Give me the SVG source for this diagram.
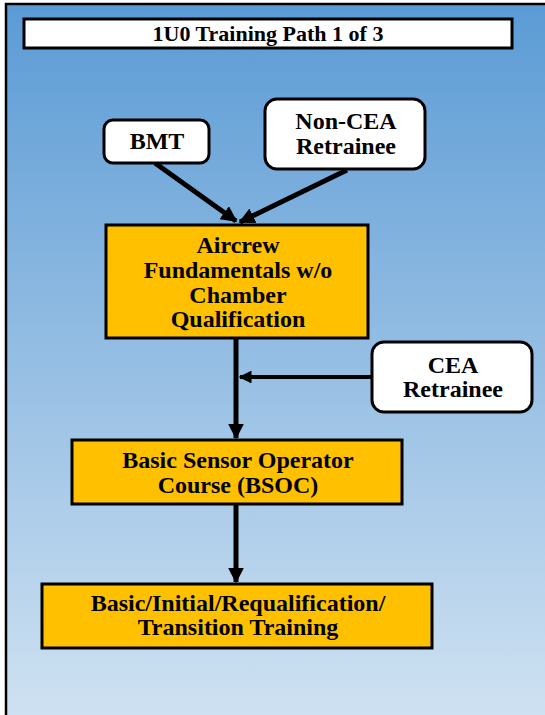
<svg xmlns="http://www.w3.org/2000/svg" width="545" height="715" viewBox="0 0 545 715">
<style>
.w{fill:#fff;stroke:#000;stroke-width:3}
.o{fill:#ffc000;stroke:#000;stroke-width:3}
.c{stroke:#000;stroke-width:5;fill:none}
</style>
<defs>
<linearGradient id="bg" x1="0" y1="0" x2="0" y2="1">
<stop offset="0" stop-color="#5b9bd5"/>
<stop offset="1" stop-color="#d0e2f2"/>
</linearGradient>
<marker id="ah" viewBox="0 0 10 10" refX="9" refY="5" markerWidth="3.2" markerHeight="3.2" orient="auto" markerUnits="strokeWidth">
<path d="M0,0 L10,5 L0,10 Z" fill="#000"/>
</marker>
</defs>
<rect x="0" y="0" width="545" height="715" fill="#fff"/>
<rect x="6" y="4" width="545" height="720" fill="url(#bg)" stroke="#000" stroke-width="2.5"/>
<g id="title">
<rect x="24" y="19" width="488" height="29" class="w"/>
<text x="268" y="41" font-family="Liberation Serif" font-weight="bold" font-size="22" text-anchor="middle">1U0 Training Path 1 of 3</text>
</g>
<g id="connectors">
<line x1="155" y1="163" x2="236" y2="221" class="c" marker-end="url(#ah)"/>
<line x1="347" y1="170" x2="240" y2="222" class="c" marker-end="url(#ah)"/>
<line x1="236" y1="338" x2="236" y2="438" class="c" marker-end="url(#ah)"/>
<line x1="372" y1="377" x2="240" y2="377" stroke="#000" stroke-width="4" marker-end="url(#ah)"/>
<line x1="236" y1="504" x2="236" y2="582" class="c" marker-end="url(#ah)"/>
</g>
<g id="bmt">
<rect x="104" y="120" width="105" height="43" rx="9" class="w"/>
<text x="157" y="149" font-family="Liberation Serif" font-weight="bold" font-size="24" text-anchor="middle">BMT</text>
</g>
<g id="noncea">
<rect x="265" y="99" width="160" height="70" rx="12" class="w"/>
<text x="346" y="129" font-family="Liberation Serif" font-weight="bold" font-size="24" text-anchor="middle">Non-CEA</text>
<text x="346" y="154" font-family="Liberation Serif" font-weight="bold" font-size="24" text-anchor="middle">Retrainee</text>
</g>
<g id="aircrew">
<rect x="106" y="225" width="262" height="113" class="o"/>
<text x="238" y="253" font-family="Liberation Serif" font-weight="bold" font-size="24" text-anchor="middle">Aircrew</text>
<text x="238" y="278" font-family="Liberation Serif" font-weight="bold" font-size="24" text-anchor="middle">Fundamentals w/o</text>
<text x="238" y="303" font-family="Liberation Serif" font-weight="bold" font-size="24" text-anchor="middle">Chamber</text>
<text x="238" y="327" font-family="Liberation Serif" font-weight="bold" font-size="24" text-anchor="middle">Qualification</text>
</g>
<g id="cea">
<rect x="372" y="342" width="160" height="70" rx="12" class="w"/>
<text x="453" y="373" font-family="Liberation Serif" font-weight="bold" font-size="24" text-anchor="middle">CEA</text>
<text x="453" y="397" font-family="Liberation Serif" font-weight="bold" font-size="24" text-anchor="middle">Retrainee</text>
</g>
<g id="bsoc">
<rect x="72" y="440" width="330" height="64" class="o"/>
<text x="238" y="468" font-family="Liberation Serif" font-weight="bold" font-size="24" text-anchor="middle">Basic Sensor Operator</text>
<text x="238" y="493" font-family="Liberation Serif" font-weight="bold" font-size="24" text-anchor="middle">Course (BSOC)</text>
</g>
<g id="final">
<rect x="42" y="584" width="390" height="64" class="o"/>
<text x="238" y="611" font-family="Liberation Serif" font-weight="bold" font-size="24" text-anchor="middle">Basic/Initial/Requalification/</text>
<text x="238" y="635" font-family="Liberation Serif" font-weight="bold" font-size="24" text-anchor="middle">Transition Training</text>
</g>
</svg>
